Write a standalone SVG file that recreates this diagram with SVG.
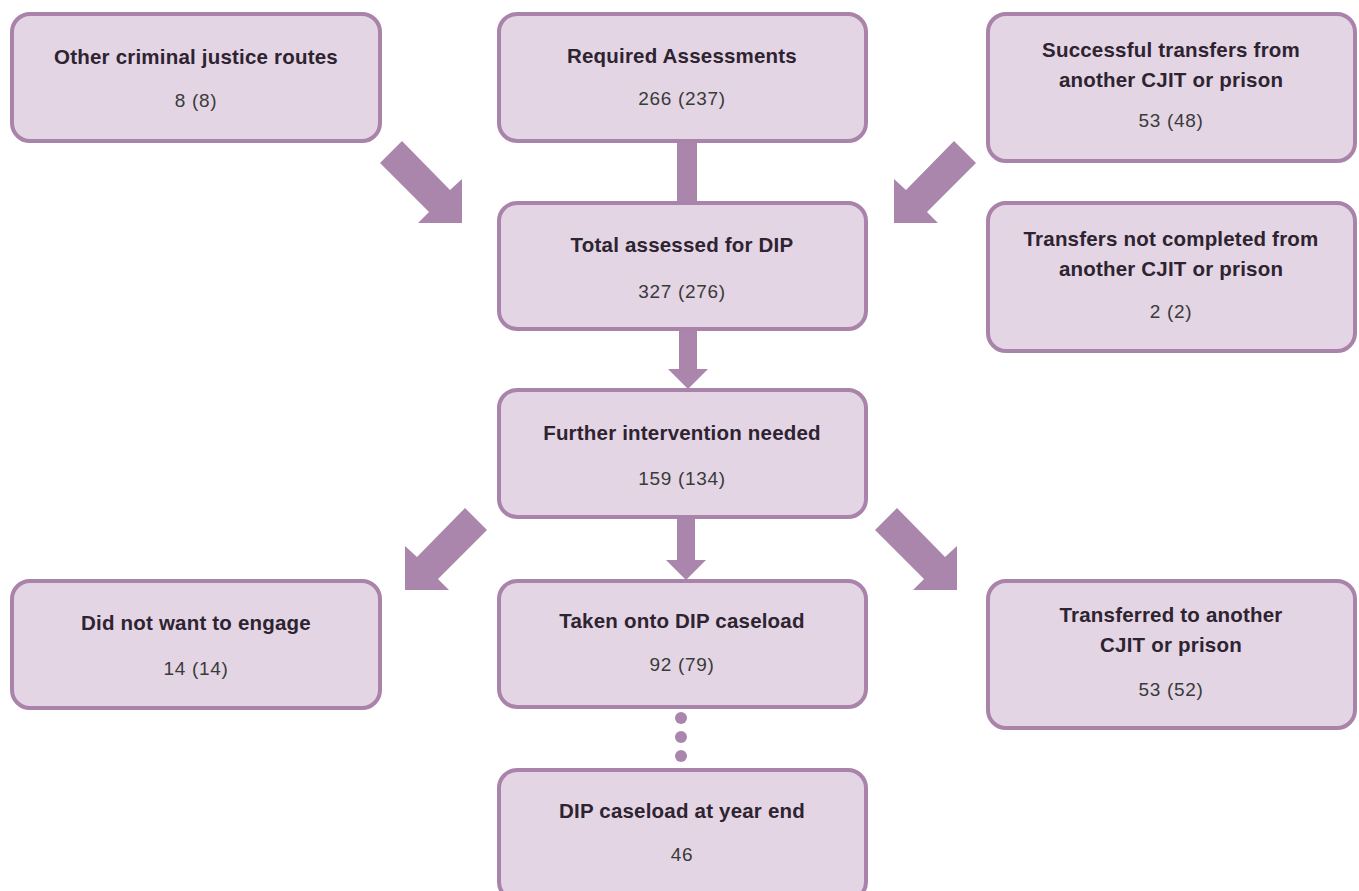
<svg xmlns="http://www.w3.org/2000/svg" width="1359" height="891" viewBox="0 0 1359 891">
<style>
.box{fill:#e3d5e4;stroke:#a983aa;stroke-width:4}
.t{font-family:"Liberation Sans",Arial,sans-serif;font-weight:bold;font-size:20.5px;letter-spacing:0.2px;fill:#2e2330;text-anchor:middle}
.n{font-family:"Liberation Sans",Arial,sans-serif;font-size:19px;letter-spacing:0.7px;fill:#3a3a3a;text-anchor:middle}
.c{fill:#ab86ac}
</style>
<rect width="1359" height="891" fill="#ffffff"/>
<g id="connectors">
<rect class="c" x="677" y="140" width="20" height="64"/>
<polygon class="c" points="679,329 697,329 697,369 708,369 688,389 668,369 679,369"/>
<polygon class="c" points="677,517 695,517 695,560 706,560 686,580 666,560 677,560"/>
<polygon class="c" points="380,163 402,141 450,190 462,179 462,223 418,223 429,212"/>
<polygon class="c" points="976,163 954,141 906,190 894,179 894,223 938,223 927,212"/>
<polygon class="c" points="487,530 465,508 417,557 405,546 405,590 449,590 438,579"/>
<polygon class="c" points="875,530 897,508 945,557 957,546 957,590 913,590 924,579"/>
<circle class="c" cx="681" cy="718" r="6"/>
<circle class="c" cx="681" cy="737" r="6"/>
<circle class="c" cx="681" cy="756" r="6"/>
</g>
<g id="other-routes">
<rect class="box" x="12" y="14" width="368" height="127" rx="18"/>
<text class="t" x="196" y="64">Other criminal justice routes</text>
<text class="n" x="196" y="107">8 (8)</text>
</g>
<g id="required">
<rect class="box" x="499" y="14" width="367" height="127" rx="18"/>
<text class="t" x="682" y="63">Required Assessments</text>
<text class="n" x="682" y="105">266 (237)</text>
</g>
<g id="successful-transfers">
<rect class="box" x="988" y="14" width="367" height="147" rx="18"/>
<text class="t" x="1171" y="57">Successful transfers from</text>
<text class="t" x="1171" y="87">another CJIT or prison</text>
<text class="n" x="1171" y="127">53 (48)</text>
</g>
<g id="total-assessed">
<rect class="box" x="499" y="203" width="367" height="126" rx="18"/>
<text class="t" x="682" y="252">Total assessed for DIP</text>
<text class="n" x="682" y="298">327 (276)</text>
</g>
<g id="transfers-not-completed">
<rect class="box" x="988" y="203" width="367" height="148" rx="18"/>
<text class="t" x="1171" y="246">Transfers not completed from</text>
<text class="t" x="1171" y="276">another CJIT or prison</text>
<text class="n" x="1171" y="318">2 (2)</text>
</g>
<g id="further-intervention">
<rect class="box" x="499" y="390" width="367" height="127" rx="18"/>
<text class="t" x="682" y="440">Further intervention needed</text>
<text class="n" x="682" y="485">159 (134)</text>
</g>
<g id="did-not-engage">
<rect class="box" x="12" y="581" width="368" height="127" rx="18"/>
<text class="t" x="196" y="630">Did not want to engage</text>
<text class="n" x="196" y="675">14 (14)</text>
</g>
<g id="taken-onto">
<rect class="box" x="499" y="581" width="367" height="126" rx="18"/>
<text class="t" x="682" y="628">Taken onto DIP caseload</text>
<text class="n" x="682" y="671">92 (79)</text>
</g>
<g id="transferred">
<rect class="box" x="988" y="581" width="367" height="147" rx="18"/>
<text class="t" x="1171" y="622">Transferred to another</text>
<text class="t" x="1171" y="652">CJIT or prison</text>
<text class="n" x="1171" y="696">53 (52)</text>
</g>
<g id="year-end">
<rect class="box" x="499" y="770" width="367" height="130" rx="18"/>
<text class="t" x="682" y="818">DIP caseload at year end</text>
<text class="n" x="682" y="861">46</text>
</g>
</svg>
